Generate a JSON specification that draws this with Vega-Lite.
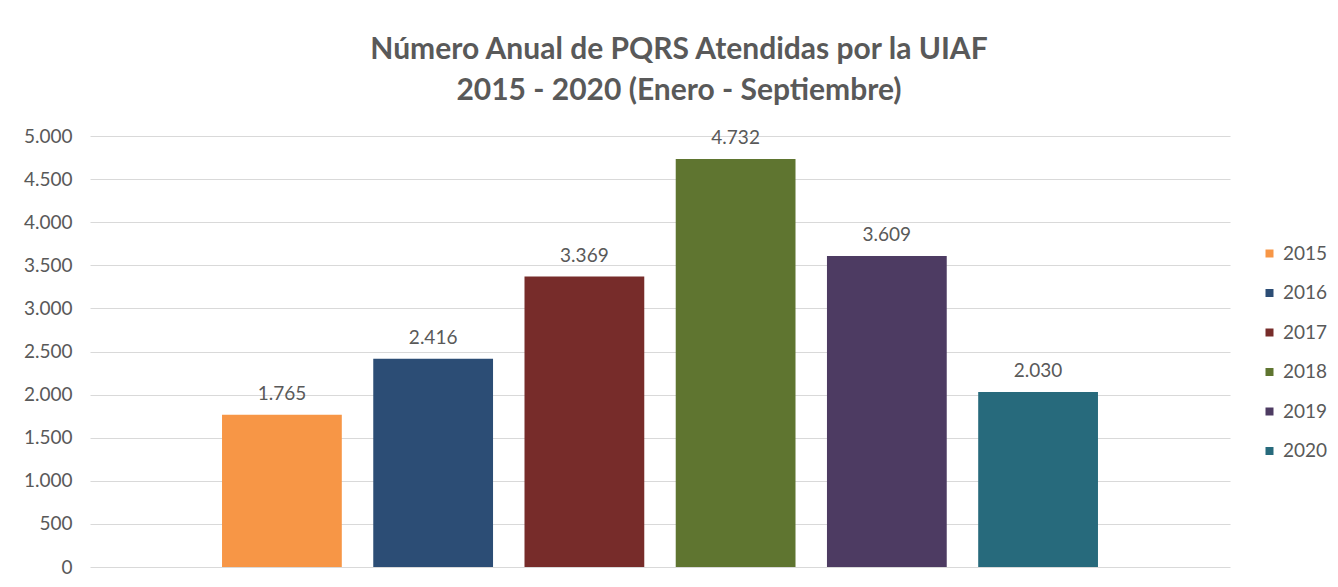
{
  "$schema": "https://vega.github.io/schema/vega-lite/v6.json",
  "autosize": {"type": "none"},
  "width": 1140,
  "height": 431,
  "padding": {"left": 90, "top": 136, "right": 108, "bottom": 20},
  "background": "white",
  "config": {
    "locale": {"number": {"decimal": ",", "thousands": ".", "grouping": [3], "currency": ["$", ""]}},
    "view": {"stroke": null},
    "font": "Lato"
  },
  "title": {
    "text": ["Número Anual de PQRS Atendidas por la UIAF", "2015 - 2020 (Enero - Septiembre)"],
    "font": "Lato",
    "fontSize": 30,
    "fontWeight": "bold",
    "color": "#595959",
    "lineHeight": 41,
    "anchor": "middle",
    "dx": 19,
    "offset": 21
  },
  "data": {
    "values": [
      {"anio": "2015", "pqrs": 1765},
      {"anio": "2016", "pqrs": 2416},
      {"anio": "2017", "pqrs": 3369},
      {"anio": "2018", "pqrs": 4732},
      {"anio": "2019", "pqrs": 3609},
      {"anio": "2020", "pqrs": 2030}
    ]
  },
  "encoding": {
    "x": {
      "field": "anio",
      "type": "nominal",
      "axis": null,
      "scale": {"paddingInner": 0.208, "paddingOuter": 0.873}
    },
    "y": {
      "field": "pqrs",
      "type": "quantitative",
      "scale": {"domain": [0, 5000], "nice": false},
      "axis": {
        "title": null,
        "values": [0, 500, 1000, 1500, 2000, 2500, 3000, 3500, 4000, 4500, 5000],
        "format": ",d",
        "domain": false,
        "ticks": false,
        "labelFont": "Lato",
        "labelFontSize": 19,
        "labelColor": "#595959",
        "labelPadding": 18,
        "gridColor": "#D9D9D9",
        "gridWidth": 1
      }
    }
  },
  "layer": [
    {
      "mark": {"type": "bar"},
      "encoding": {
        "color": {
          "field": "anio",
          "type": "nominal",
          "scale": {
            "domain": ["2015", "2016", "2017", "2018", "2019", "2020"],
            "range": ["#F79646", "#2C4D75", "#772C2A", "#5F7530", "#4D3B62", "#276A7C"]
          },
          "legend": {
            "title": null,
            "orient": "none",
            "legendX": 1170,
            "legendY": 108,
            "symbolType": "square",
            "symbolSize": 64,
            "symbolStrokeWidth": 0,
            "labelFont": "Lato",
            "labelFontSize": 19,
            "labelColor": "#595959",
            "labelOffset": 4,
            "rowPadding": 19.5
          }
        }
      }
    },
    {
      "mark": {"type": "text", "baseline": "alphabetic", "dy": -15, "font": "Lato", "fontSize": 19, "color": "#595959"},
      "encoding": {
        "text": {"field": "pqrs", "type": "quantitative", "format": ",d"}
      }
    }
  ]
}
